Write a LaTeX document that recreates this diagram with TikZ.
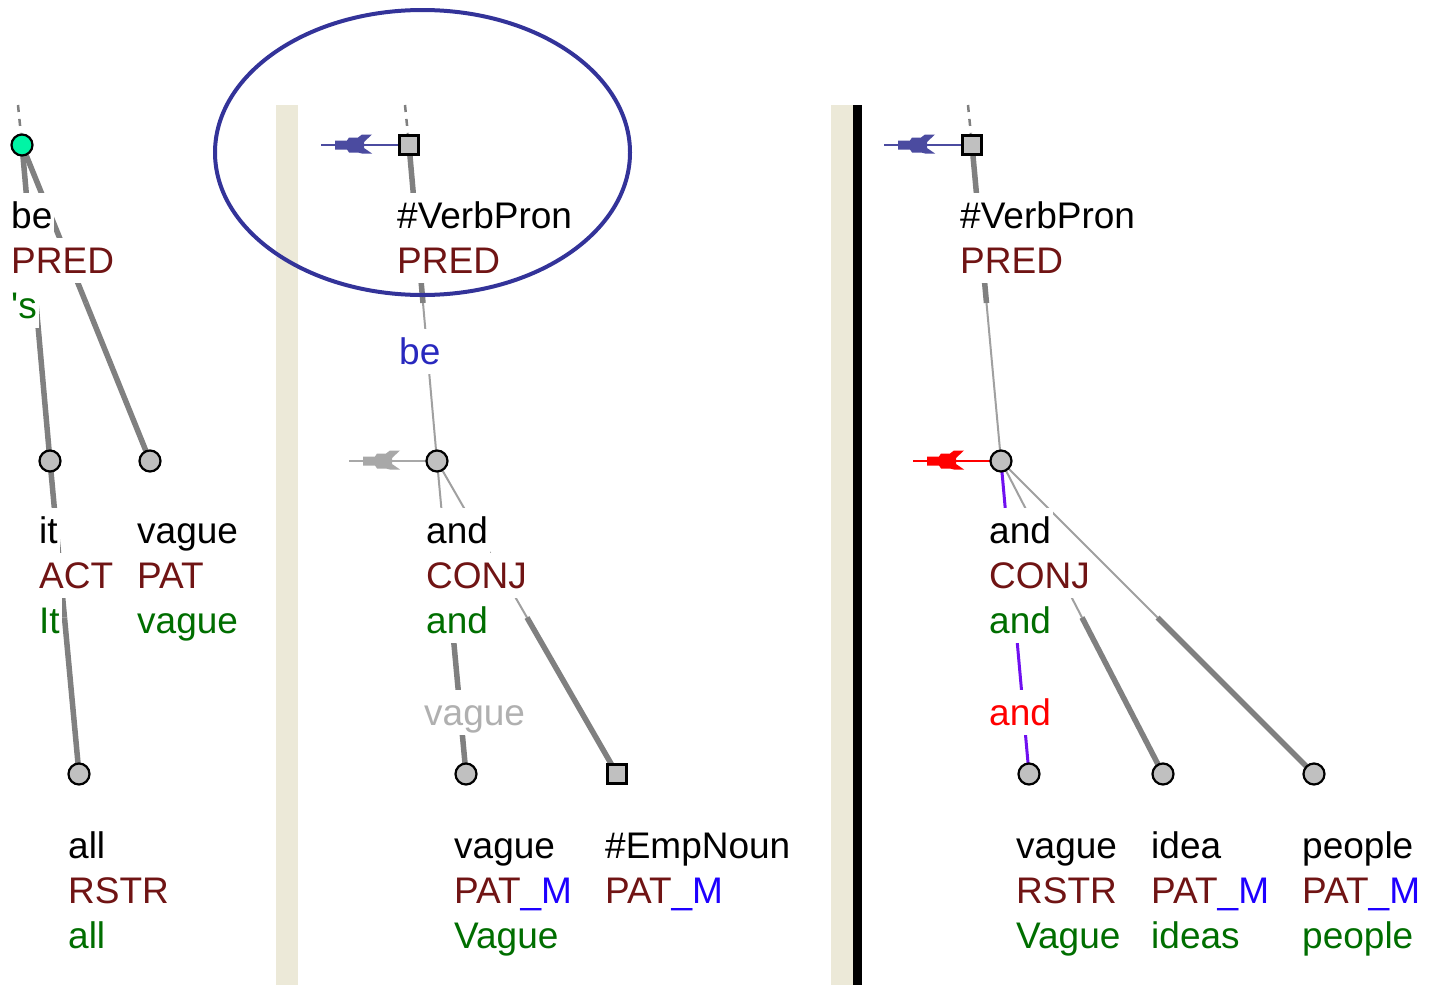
\documentclass[tikz,border=0pt]{standalone}
\usepackage{fontspec}
\setmainfont{Liberation Sans}
\definecolor{fnc}{RGB}{112,20,20}
\definecolor{grn}{RGB}{0,110,0}
\definecolor{mblue}{RGB}{30,0,255}
\definecolor{elbl}{RGB}{40,40,190}
\definecolor{arrblue}{RGB}{75,75,160}
\definecolor{arrgray}{RGB}{168,168,168}
\definecolor{purp}{RGB}{112,16,240}
\definecolor{ellc}{RGB}{51,51,153}
\definecolor{beige}{RGB}{236,233,216}
\definecolor{nodegray}{RGB}{192,192,192}
\definecolor{thickc}{RGB}{128,128,128}
\definecolor{thinc}{RGB}{160,160,160}
\definecolor{rootgreen}{RGB}{0,245,165}
\definecolor{lblgray}{RGB}{176,176,176}
\pgfdeclarelayer{bars}
\pgfdeclarelayer{edges}
\pgfsetlayers{bars,edges,main}
\tikzset{
  tnode/.style={circle, draw=black, line width=2.2pt, fill=nodegray, minimum size=21pt, inner sep=0pt},
  tsq/.style={rectangle, draw=black, line width=3pt, fill=nodegray, minimum size=19.5pt, inner sep=0pt},
  troot/.style={tnode, fill=rootgreen},
  lbl/.style={anchor=base west, inner xsep=2pt, inner ysep=0pt, fill=white, text height=35pt, text depth=10pt, font=\fontsize{37}{45}\selectfont},
  thickedge/.style={draw=thickc, line width=5.5pt},
  thinedge/.style={draw=thinc, line width=2pt},
  purpedge/.style={draw=purp, line width=3pt},
  dashtop/.style={draw=thickc, line width=2.5pt, dash pattern=on 7pt off 7pt},
}
\newcommand{\halfedge}[4]{%
  \path (#1.center) -- (#2.center) coordinate[pos=0.5] (m#1#2);
  \draw[#3] (#1.center) -- (m#1#2);
  \draw[#4] (m#1#2) -- (#2.center);
}
\newcommand{\corefarrow}[2]{%
  \draw[#2, line width=2.5pt] (#1.center) -- ++(-88,0) coordinate (#1arr);
  \fill[#2, shift={(#1.center)}] (-74,-4.5) -- (-62,-4.5) -- (-60,-7.5) -- (-51,-7.5) -- (-47,-10.5) -- (-37,-10.5) -- (-45,-3) -- (-45,3) -- (-37,8.5) -- (-47,8.5) -- (-51,7.5) -- (-60,7.5) -- (-62,4.5) -- (-74,4.5) -- cycle;
}
\newcommand{\threel}[6]{%
  \node[lbl] (#1a) at (#2,#3) {#4};
  \node[lbl,text=fnc] (#1b) at (#2,#3+45) {#5};
  \node[lbl,text=grn] (#1c) at (#2,#3+90) {#6};
}
\newcommand{\twol}[5]{%
  \node[lbl] (#1a) at (#2,#3) {#4};
  \node[lbl,text=fnc] (#1b) at (#2,#3+45) {#5};
}
\newcommand{\PM}{PAT{\color{mblue}\_M}}
\begin{document}
\begin{tikzpicture}[x=1pt,y=-1pt]
\useasboundingbox (0,0) rectangle (1429,985);
\begin{pgfonlayer}{bars}
  \fill[white] (0,0) rectangle (1429,985);
  \fill[beige] (276,105) rectangle (298,985);
  \fill[beige] (831,105) rectangle (852.5,985);
  \fill[black] (852.5,105) rectangle (862,985);
\end{pgfonlayer}
% tree nodes
\node[troot] (R1) at (22,145) {};
\node[tnode] (I1) at (50,461) {};
\node[tnode] (V1) at (150,461) {};
\node[tnode] (A1) at (79,774) {};
\node[tsq] (S2) at (409,145) {};
\node[tnode] (C2) at (437,461) {};
\node[tnode] (V2) at (466,774) {};
\node[tsq] (E2) at (617,774) {};
\node[tsq] (S3) at (972,145) {};
\node[tnode] (C3) at (1001,461) {};
\node[tnode] (V3) at (1029,774) {};
\node[tnode] (I3) at (1163,774) {};
\node[tnode] (P3) at (1314,774) {};
\coordinate (T1) at (18,105);
\coordinate (T2) at (405,105);
\coordinate (T3) at (968,105);
\begin{pgfonlayer}{edges}
  \draw[dashtop] (T1) -- (R1);
  \draw[dashtop] (T2) -- (S2);
  \draw[dashtop] (T3) -- (S3);
  \halfedge{R1}{I1}{thickedge}{thickedge}
  \halfedge{R1}{V1}{thickedge}{thickedge}
  \halfedge{I1}{A1}{thickedge}{thickedge}
  \halfedge{S2}{C2}{thickedge}{thinedge}
  \halfedge{C2}{V2}{thinedge}{thickedge}
  \halfedge{C2}{E2}{thinedge}{thickedge}
  \halfedge{S3}{C3}{thickedge}{thinedge}
  \halfedge{C3}{V3}{purpedge}{purpedge}
  \halfedge{C3}{I3}{thinedge}{thickedge}
  \halfedge{C3}{P3}{thinedge}{thickedge}
  \corefarrow{S2}{arrblue}
  \corefarrow{C2}{arrgray}
  \corefarrow{S3}{arrblue}
  \corefarrow{C3}{red}
\end{pgfonlayer}
% labels left tree
\threel{lbe}{9}{228}{be}{PRED}{\textquotesingle s}
\threel{lit}{37}{543}{it}{ACT}{It}
\threel{lva}{135}{543}{vague}{PAT}{vague}
\threel{lal}{66}{858}{all}{RSTR}{all}
% middle tree
\twol{mvp}{395}{228}{\#VerbPron}{PRED}
\node[lbl,text=elbl] (mbe) at (397,364) {be};
\threel{man}{424}{543}{and}{CONJ}{and}
\node[lbl,text=lblgray] (mvl) at (422,725) {vague};
\threel{mva}{452}{858}{vague}{\PM}{Vague}
\twol{mem}{603}{858}{\#EmpNoun}{\PM}
% right tree
\twol{rvp}{958}{228}{\#VerbPron}{PRED}
\threel{ran}{987}{543}{and}{CONJ}{and}
\node[lbl,text=red] (rrl) at (987,725) {and};
\threel{rva}{1014}{858}{vague}{RSTR}{Vague}
\threel{rid}{1149}{858}{idea}{\PM}{ideas}
\threel{rpe}{1300}{858}{people}{\PM}{people}
% highlight ellipse
\draw[ellc, line width=4pt] (422.5,152.5) ellipse [x radius=207.5pt, y radius=142.5pt];
\end{tikzpicture}
\end{document}
